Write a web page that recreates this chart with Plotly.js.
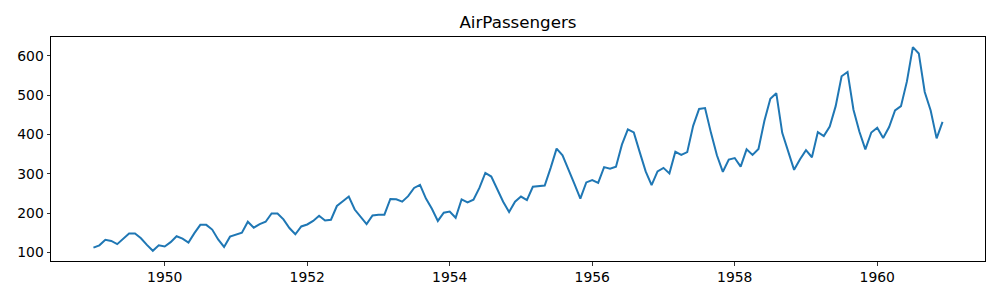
<!DOCTYPE html>
<html>
<head>
<meta charset="utf-8">
<script src="https://cdn.plot.ly/plotly-3.0.1.min.js"></script>
<style>html,body{margin:0;padding:0;background:#fff;}</style>
</head>
<body>
<div id="chart" style="width:1000px;height:300px;"></div>
<script>
const startYear = 1949;
const passengers = [
  112,118,132,129,121,135,148,148,136,119,104,118,
  115,126,141,135,125,149,170,170,158,133,114,140,
  145,150,178,163,172,178,199,199,184,162,146,166,
  171,180,193,181,183,218,230,242,209,191,172,194,
  196,196,236,235,229,243,264,272,237,211,180,201,
  204,188,235,227,234,264,302,293,259,229,203,229,
  242,233,267,269,270,315,364,347,312,274,237,278,
  284,277,317,313,318,374,413,405,355,306,271,306,
  315,301,356,348,355,422,465,467,404,347,305,336,
  340,318,362,348,363,435,491,505,404,359,310,337,
  360,342,406,396,420,472,548,559,463,407,362,405,
  417,391,419,461,472,535,622,606,508,461,390,432
];
const xTickVals = [1950,1952,1954,1956,1958,1960];
const yTickVals = [100,200,300,400,500,600];
const titleText = "AirPassengers";

const times = passengers.map((v,i)=> startYear + i/12);
const xmin = Math.min(...times), xmax = Math.max(...times);
const ymin = Math.min(...passengers), ymax = Math.max(...passengers);
const xm = (xmax-xmin)*0.05, ym = (ymax-ymin)*0.05;

const font = {family:"DejaVu Sans", size:13.9, color:"#000"};
Plotly.newPlot("chart", [{
  x: times, y: passengers, type:"scatter", mode:"lines",
  line:{color:"#1f77b4", width:2}, hoverinfo:"skip"
}], {
  width:1000, height:300,
  margin:{l:51, r:15, t:37, b:39, pad:0},
  paper_bgcolor:"#fff", plot_bgcolor:"#fff",
  showlegend:false,
  title:{text:titleText, font:{family:"DejaVu Sans", size:16.7, color:"#000"}, x:0.518, xanchor:"center", y:0.925, yanchor:"middle"},
  xaxis:{range:[xmin-xm, xmax+xm], tickvals:xTickVals, ticktext:xTickVals.map(String),
    showgrid:false, zeroline:false, showline:true, linecolor:"#000", linewidth:1, mirror:true,
    ticks:"outside", ticklen:3.5, tickwidth:0.8, tickcolor:"#000", tickfont:font},
  yaxis:{range:[ymin-ym, ymax+ym], tickvals:yTickVals, ticktext:yTickVals.map(String),
    showgrid:false, zeroline:false, showline:true, linecolor:"#000", linewidth:1, mirror:true,
    ticks:"outside", ticklen:3.5, tickwidth:0.8, tickcolor:"#000", tickfont:font}
}, {staticPlot:true});
</script>
</body>
</html>
